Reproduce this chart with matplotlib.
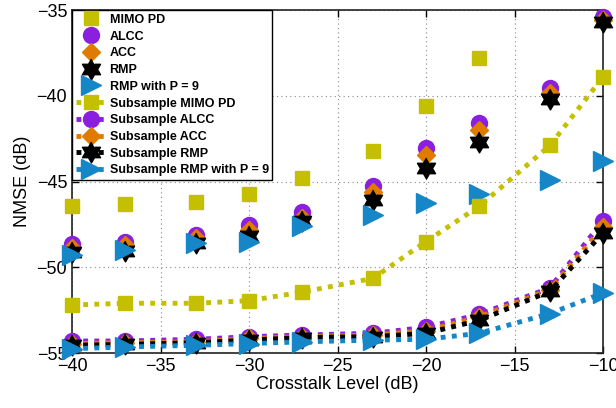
import numpy as np
import matplotlib
matplotlib.use("Agg")
import matplotlib.pyplot as plt

plt.rcParams['font.family'] = ['Liberation Sans', 'DejaVu Sans']

crosstalk = [-40, -37, -33, -30, -27, -23, -20, -17, -13, -10]

mimo_pd = [-46.4, -46.3, -46.2, -45.7, -44.8, -43.2, -40.6, -37.8, np.nan, np.nan]
alcc = [-48.65, -48.5, -48.1, -47.55, -46.8, -45.25, -43.05, -41.6, -39.55, -35.4]
acc = [-48.85, -48.7, -48.3, -47.85, -47.15, -45.6, -43.45, -42.0, -39.85, -35.6]
rmp = [-49.1, -49.05, -48.6, -48.2, -47.3, -46.1, -44.2, -42.7, -40.2, -35.7]
rmp9 = [-49.3, -49.0, -48.6, -48.5, -47.6, -46.95, -46.25, -45.75, -44.9, -43.8]

sub_mimo_pd = [-52.2, -52.1, -52.1, -51.95, -51.45, -50.65, -48.5, -46.45, -42.9, -38.9]
sub_alcc = [-54.3, -54.3, -54.2, -54.05, -53.95, -53.85, -53.5, -52.75, -51.2, -47.3]
sub_acc = [-54.45, -54.4, -54.35, -54.15, -54.05, -53.95, -53.7, -52.9, -51.3, -47.65]
sub_rmp = [-54.55, -54.5, -54.4, -54.25, -54.1, -54.05, -53.85, -53.1, -51.4, -48.0]
sub_rmp9 = [-54.75, -54.65, -54.55, -54.45, -54.35, -54.25, -54.2, -53.85, -52.7, -51.5]

c_mimo = '#c4bf00'
c_alcc = '#8a1fe0'
c_acc = '#e07b00'
c_rmp = '#000000'
c_rmp9 = '#1586c8'

# hexagram (star of David) marker
ang = np.deg2rad(90 + 30 * np.arange(12))
rad = np.where(np.arange(12) % 2 == 0, 1.0, 1.0 / np.sqrt(3))
hexagram = np.column_stack([rad * np.cos(ang), rad * np.sin(ang)])

fig = plt.figure(figsize=(6.16, 4.08), dpi=100)
ax = fig.add_axes([72/616, 1-353/408, (603-72)/616, (353-10)/408])

mk = dict(linestyle='none', clip_on=False, zorder=3)
ax.plot(crosstalk, mimo_pd, marker='s', ms=10.5, color=c_mimo, mec=c_mimo, label='MIMO PD', **mk)
ax.plot(crosstalk, alcc, marker='o', ms=11.5, color=c_alcc, mec=c_alcc, label='ALCC', **mk)
ax.plot(crosstalk, acc, marker='D', ms=9.5, color=c_acc, mec=c_acc, label='ACC', **mk)
ax.plot(crosstalk, rmp, marker=hexagram, ms=15, color=c_rmp, mec=c_rmp, label='RMP', **mk)
ax.plot(crosstalk, rmp9, marker='>', ms=14, color=c_rmp9, mec=c_rmp9, label='RMP with P = 9', **mk)

ln = dict(linestyle=(0, (1.0, 1.3)), lw=3.5, dash_capstyle='butt', clip_on=False, zorder=3)
ax.plot(crosstalk, sub_mimo_pd, marker='s', ms=10.5, color=c_mimo, mec=c_mimo, label='Subsample MIMO PD', **ln)
ax.plot(crosstalk, sub_alcc, marker='o', ms=11.5, color=c_alcc, mec=c_alcc, label='Subsample ALCC', **ln)
ax.plot(crosstalk, sub_acc, marker='D', ms=9.5, color=c_acc, mec=c_acc, label='Subsample ACC', **ln)
ax.plot(crosstalk, sub_rmp, marker=hexagram, ms=15, color=c_rmp, mec=c_rmp, label='Subsample RMP', **ln)
ax.plot(crosstalk, sub_rmp9, marker='>', ms=14, color=c_rmp9, mec=c_rmp9, label='Subsample RMP with P = 9', **ln)

ax.set_xlim(-40, -10)
ax.set_ylim(-55, -35)
ax.set_xticks([-40, -35, -30, -25, -20, -15, -10])
ax.set_yticks([-55, -50, -45, -40, -35])
ax.grid(True, linestyle=(0, (1, 3)), color='#888888', lw=0.8)
ax.tick_params(direction='in', top=True, right=True, labelsize=13, length=5, width=1)
for s in ax.spines.values():
    s.set_linewidth(1.2)
    s.set_color('#222222')
ax.set_xlabel('Crosstalk Level (dB)', fontsize=13, labelpad=1)
ax.set_ylabel('NMSE (dB)', fontsize=13, labelpad=4)

leg = ax.legend(loc='upper left', prop={'size': 9, 'weight': 'bold'}, fancybox=False,
                framealpha=1, edgecolor='black', borderaxespad=0, handlelength=2.4,
                labelspacing=0.38, handletextpad=0.3, borderpad=0.3)
leg.get_frame().set_linewidth(1.0)
leg.set_zorder(5)

fig.savefig('out.png', dpi=100)
